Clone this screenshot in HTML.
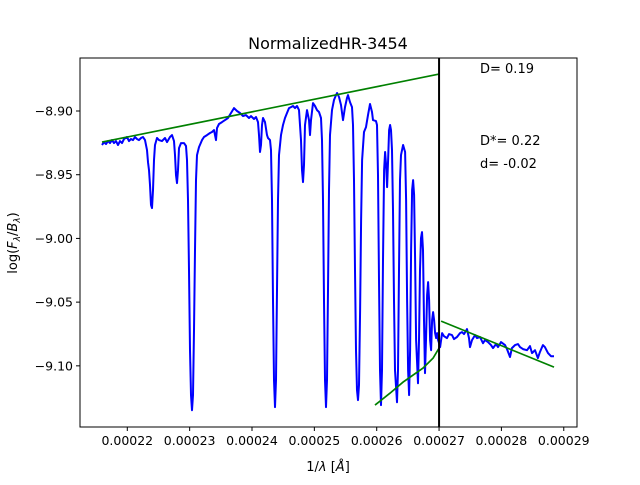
<!DOCTYPE html>
<html><head><meta charset="utf-8"><style>
body{margin:0;background:#fff;}
svg text{font-family:"DejaVu Sans","Liberation Sans",sans-serif;}
</style></head><body>
<svg id="chart" width="640" height="480" xmlns="http://www.w3.org/2000/svg">
<rect width="640" height="480" fill="#fff"/>
<text x="328" y="49" font-size="16" text-anchor="middle">NormalizedHR-3454</text>
<g id="plot"></g>
<rect x="80" y="58" width="497" height="369" fill="none" stroke="#000" stroke-width="1"/>
<g id="xticks"></g><g id="yticks"></g>
<text x="328" y="471" font-size="13" text-anchor="middle">1/<tspan font-style="italic">λ</tspan> [<tspan font-style="italic">Å</tspan>]</text>
<text transform="translate(17,243) rotate(-90)" font-size="13" text-anchor="middle">log(<tspan font-style="italic">F</tspan><tspan font-size="9" dy="3" font-style="italic">λ</tspan><tspan dy="-3">/</tspan><tspan font-style="italic">B</tspan><tspan font-size="9" dy="3" font-style="italic">λ</tspan><tspan dy="-3">)</tspan></text>
<text x="480" y="73" font-size="13">D= 0.19</text>
<text x="480" y="145" font-size="13">D*= 0.22</text>
<text x="480" y="168" font-size="13">d= -0.02</text>
</svg>
<script>
// wavenumber in units of 1e-5 1/Å
const specX=[21.594,21.626,21.658,21.691,21.723,21.755,21.787,21.819,21.851,21.883,21.915,21.947,21.995,22.027,22.059,22.091,22.124,22.156,22.188,22.220,22.252,22.284,22.316,22.332,22.348,22.364,22.380,22.396,22.412,22.428,22.444,22.476,22.508,22.556,22.604,22.637,22.685,22.717,22.749,22.765,22.781,22.797,22.813,22.829,22.861,22.909,22.941,22.957,22.973,22.989,23.005,23.021,23.038,23.054,23.070,23.086,23.102,23.118,23.150,23.198,23.230,23.278,23.326,23.358,23.390,23.423,23.439,23.471,23.519,23.567,23.615,23.663,23.711,23.759,23.807,23.856,23.904,23.952,23.984,24.032,24.064,24.096,24.112,24.128,24.144,24.160,24.176,24.209,24.241,24.257,24.289,24.305,24.321,24.337,24.353,24.369,24.385,24.401,24.417,24.433,24.465,24.497,24.529,24.561,24.594,24.626,24.658,24.690,24.722,24.754,24.786,24.802,24.818,24.834,24.850,24.882,24.914,24.930,24.946,24.979,25.011,25.043,25.075,25.107,25.123,25.139,25.155,25.171,25.187,25.203,25.219,25.235,25.251,25.283,25.315,25.347,25.364,25.396,25.428,25.460,25.492,25.524,25.540,25.572,25.604,25.620,25.636,25.652,25.668,25.684,25.700,25.716,25.733,25.749,25.765,25.797,25.829,25.861,25.893,25.925,25.941,25.989,26.005,26.021,26.037,26.053,26.069,26.085,26.101,26.118,26.134,26.150,26.166,26.182,26.198,26.214,26.230,26.246,26.262,26.278,26.294,26.326,26.342,26.358,26.374,26.390,26.423,26.455,26.471,26.487,26.503,26.519,26.535,26.551,26.567,26.583,26.599,26.615,26.631,26.663,26.679,26.695,26.711,26.727,26.743,26.759,26.775,26.791,26.808,26.824,26.840,26.856,26.872,26.888,26.904,26.920,26.936,26.952,26.968,26.984,27.000,27.016,27.048,27.080,27.128,27.160,27.208,27.240,27.288,27.336,27.368,27.400,27.448,27.480,27.496,27.528,27.576,27.608,27.657,27.705,27.737,27.785,27.833,27.865,27.913,27.945,27.993,28.057,28.089,28.137,28.169,28.218,28.266,28.298,28.346,28.410,28.458,28.490,28.538,28.586,28.618,28.666,28.698,28.747,28.795,28.843];
const specY=[-8.9267,-8.9244,-8.9259,-8.9236,-8.9252,-8.9228,-8.9252,-8.9236,-8.9267,-8.9236,-8.9252,-8.9220,-8.9204,-8.9236,-8.9220,-8.9228,-8.9204,-8.9220,-8.9228,-8.9212,-8.9204,-8.9228,-8.9307,-8.9401,-8.9464,-8.9581,-8.9738,-8.9762,-8.9621,-8.9385,-8.9267,-8.9212,-8.9228,-8.9236,-8.9212,-8.9244,-8.9204,-8.9189,-8.9236,-8.9346,-8.9503,-8.9566,-8.9464,-8.9291,-8.9252,-8.9252,-8.9275,-8.9385,-8.9699,-9.0249,-9.0877,-9.1230,-9.1348,-9.1230,-9.0720,-9.0092,-8.9542,-8.9346,-8.9283,-8.9228,-8.9204,-8.9189,-8.9173,-8.9165,-8.9150,-8.9228,-8.9134,-8.9102,-8.9087,-8.9071,-8.9055,-8.9016,-8.8977,-8.9000,-8.9016,-8.9040,-8.9032,-8.9055,-8.9040,-8.9063,-8.9047,-8.9087,-8.9189,-8.9322,-8.9267,-8.9110,-8.9055,-8.9087,-8.9189,-8.9212,-8.9228,-8.9307,-8.9699,-9.0484,-9.1112,-9.1324,-9.1112,-9.0406,-8.9699,-8.9346,-8.9189,-8.9110,-8.9055,-8.9016,-8.8977,-8.8969,-8.8961,-8.8977,-8.8961,-8.8993,-8.9228,-8.9464,-8.9558,-8.9424,-8.9110,-8.8993,-8.9071,-8.9189,-8.9071,-8.8938,-8.8961,-8.8993,-8.9008,-8.9055,-8.9228,-8.9699,-9.0484,-9.1112,-9.1324,-9.1112,-9.0406,-8.9621,-8.9189,-8.8993,-8.8914,-8.8875,-8.8859,-8.8890,-8.8953,-8.9071,-8.8969,-8.8898,-8.8875,-8.8930,-8.8969,-8.9110,-8.9542,-9.0249,-9.0877,-9.1191,-9.1269,-9.1151,-9.0563,-8.9856,-8.9385,-8.9165,-8.9126,-8.9032,-8.8945,-8.9008,-8.9071,-8.9079,-8.9110,-8.9503,-9.0327,-9.1034,-9.1308,-9.1034,-9.0170,-8.9464,-8.9322,-8.9424,-8.9597,-8.9385,-8.9150,-8.9110,-8.9150,-8.9307,-8.9778,-9.0484,-9.1034,-9.1285,-9.1034,-9.0249,-8.9542,-8.9346,-8.9267,-8.9322,-8.9699,-9.0484,-9.1034,-9.1230,-9.0877,-9.0092,-8.9621,-8.9542,-8.9660,-9.0170,-9.0798,-9.1136,-9.0798,-9.0249,-8.9997,-8.9950,-9.0092,-9.0641,-9.1057,-9.0798,-9.0445,-9.0343,-9.0484,-9.0798,-9.0877,-9.0641,-9.0578,-9.0641,-9.0743,-9.0782,-9.0743,-9.0798,-9.0822,-9.0853,-9.0743,-9.0767,-9.0782,-9.0751,-9.0759,-9.0790,-9.0774,-9.0743,-9.0735,-9.0751,-9.0712,-9.0782,-9.0853,-9.0798,-9.0759,-9.0782,-9.0774,-9.0822,-9.0798,-9.0814,-9.0837,-9.0861,-9.0829,-9.0853,-9.0814,-9.0837,-9.0869,-9.0931,-9.0861,-9.0837,-9.0829,-9.0853,-9.0869,-9.0877,-9.0845,-9.0900,-9.0877,-9.0939,-9.0892,-9.0837,-9.0853,-9.0900,-9.0924,-9.0924];
const topLineX=[21.594,27.000], topLineY=[-8.9244,-8.8710];
const rightLineX=[27.032,28.843], rightLineY=[-9.0649,-9.1010];
const curveX=[25.973,26.214,26.423,26.743,26.904,27.000], curveY=[-9.1308,-9.1214,-9.1128,-9.1018,-9.0939,-9.0861];
const cutX=27.0;
const xTicks=[22,23,24,25,26,27,28,29];
const xTickLabels=["0.00022","0.00023","0.00024","0.00025","0.00026","0.00027","0.00028","0.00029"];
const yTicks=[-8.90,-8.95,-9.00,-9.05,-9.10];
const yTickLabels=["−8.90","−8.95","−9.00","−9.05","−9.10"];

const NS="http://www.w3.org/2000/svg";
const X0=21.2414,X1=29.2123,Y0=-9.1480,Y1=-8.8584,L=80,R=577,T=58,B=427;
const sx=v=>L+(v-X0)/(X1-X0)*(R-L);
const sy=v=>B-(v-Y0)/(Y1-Y0)*(B-T);
const plot=document.getElementById('plot');
function mk(tag,attrs,parent){const e=document.createElementNS(NS,tag);for(const k in attrs)e.setAttribute(k,attrs[k]);parent.appendChild(e);return e;}
function pts(xs,ys){return xs.map((x,i)=>sx(x).toFixed(1)+','+sy(ys[i]).toFixed(1)).join(' ');}
let e;
e=mk('polyline',{points:pts(specX,specY),fill:'none',stroke:'#0000ff','stroke-width':2,'stroke-linejoin':'round'},plot);


e=mk('polyline',{points:pts(topLineX,topLineY),fill:'none',stroke:'#008000','stroke-width':1.7},plot);


e=mk('polyline',{points:pts(rightLineX,rightLineY),fill:'none',stroke:'#008000','stroke-width':1.7},plot);


e=mk('polyline',{points:pts(curveX,curveY),fill:'none',stroke:'#008000','stroke-width':1.7},plot);


e=mk('line',{x1:sx(cutX),x2:sx(cutX),y1:T,y2:B,stroke:'#000','stroke-width':2},plot);


const xt=document.getElementById('xticks');
xTicks.forEach((v,i)=>{const x=sx(v);
 let l=mk('line',{x1:x,x2:x,y1:B,y2:B+4,stroke:'#000'},xt);
 
 
 let t=mk('text',{x:x,y:B+18,'font-size':12.5,'text-anchor':'middle'},xt);t.textContent=xTickLabels[i];
 
 });
const yt=document.getElementById('yticks');
yTicks.forEach((v,i)=>{const y=sy(v);
 let l=mk('line',{x1:L-4,x2:L,y1:y,y2:y,stroke:'#000'},yt);
 
 
 let t=mk('text',{x:L-7,y:y+4.5,'font-size':12.5,'text-anchor':'end'},yt);t.textContent=yTickLabels[i];
 
 });
</script>
</body></html>
